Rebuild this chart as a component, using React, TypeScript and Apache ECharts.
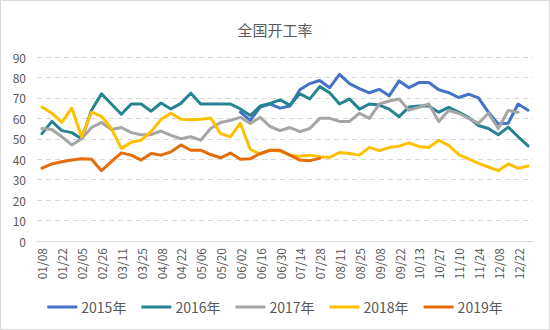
import React, { useEffect, useRef } from "react";
import * as echarts from "echarts";

const categories = [
  "01/08", "01/15", "01/22", "01/29", "02/05", "02/19", "02/26", "03/04", "03/11", "03/18",
  "03/25", "04/01", "04/08", "04/15", "04/22", "04/29", "05/06", "05/13", "05/20", "05/27",
  "06/02", "06/09", "06/16", "06/23", "06/30", "07/07", "07/14", "07/21", "07/28", "08/04",
  "08/11", "08/18", "08/25", "09/01", "09/08", "09/15", "09/22", "09/29", "10/13", "10/20",
  "10/27", "11/03", "11/10", "11/17", "11/24", "12/01", "12/08", "12/15", "12/22", "12/29",
];

const s2015 = [
  null, null, null, null, null, null, null, null, null, null,
  null, null, null, null, null, null, null, null, null, null,
  63, 59, 65.5, 67, 65, 66, 74, 77, 78.5, 75,
  81.5, 77, 74.5, 72.5, 74.2, 71, 78.3, 75, 77.5, 77.5,
  74, 72.6, 70.2, 71.8, 70, 63, 57.3, 57.6, 67, 64,
];
const s2016 = [
  52.5, 58.5, 54, 53, 50, 64, 72, 67, 62, 67,
  67, 63.5, 67.5, 64.6, 67.3, 72.3, 67, 67, 67, 67,
  64.6, 61.4, 66, 67.3, 69, 66.5, 72, 69.5, 75.5, 72.5,
  67, 69.5, 64.5, 67, 66.5, 64.5, 60.8, 65.5, 66, 66,
  63, 65.4, 63, 60.5, 56.5, 55, 52, 55.7, 51, 46.5,
];
const s2017 = [
  55, 54.5, 51, 47, 50, 55.5, 58, 54.5, 55.5, 53,
  52, 52, 53.8, 51.7, 50, 51, 49.3, 55, 58, 59,
  60.5, 57.5, 60.5, 56, 54, 55.5, 53.5, 55, 60, 60,
  58.5, 58.5, 62.5, 60, 67, 68.5, 69.5, 64, 65.4, 67,
  58.5, 63.8, 62.5, 60, 57.5, 62.5, 55, 63.8, 63, null,
];
const s2018 = [
  65.5, 62.5, 58, 65, 51, 63, 61, 55, 45.3, 48.3,
  49.3, 53.5, 59.5, 62.5, 59.6, 59.3, 59.5, 60.2, 52.5, 51,
  57.6, 44.8, 42.5, 44.4, 44, 42, 41.5, 42, 41.2, 40.9,
  43.3, 42.8, 42, 45.8, 44.2, 45.7, 46.4, 48, 46.2, 45.7,
  49.3, 46.8, 42.3, 40.2, 38, 36.2, 34.4, 37.7, 35.6, 36.7,
];
const s2019 = [
  35.6, 37.7, 38.8, 39.6, 40.2, 40, 34.4, 38.8, 43.1, 42,
  39.6, 42.8, 42, 43.6, 47, 44.4, 44.4, 42.3, 40.7, 43,
  40, 40.2, 42.8, 44.4, 44.4, 42, 39.6, 39.3, 40.4,
];

const seriesNames = ["2015年", "2016年", "2017年", "2018年", "2019年"];
const seriesData = [s2015, s2016, s2017, s2018, s2019];
const colors = ["#4472C4", "#25848F", "#A5A5A5", "#FFC000", "#E46C0A"];

const FONT = "'Noto Sans CJK SC', 'Noto Sans', sans-serif";

export default function App() {
  const ref = useRef<HTMLDivElement>(null);
  useEffect(() => {
    document.body.style.margin = "0";
    const chart = echarts.init(ref.current!, null, { renderer: "svg" });
    chart.setOption({
      animation: false,
      backgroundColor: "#ffffff",
      color: colors,
      title: {
        text: "全国开工率",
        left: "center",
        top: 16,
        textStyle: { fontSize: 15, fontWeight: "normal", color: "#595959", fontFamily: FONT },
      },
      grid: { left: 36, right: 16, top: 56, bottom: 88, containLabel: false },
      legend: {
        bottom: 10,
        left: "center",
        icon: "rect",
        itemWidth: 30,
        itemHeight: 3,
        itemGap: 15,
        textStyle: { fontSize: 14, color: "#595959", fontFamily: FONT, padding: [0, 0, 0, -1] },
        data: seriesNames,
      },
      xAxis: {
        type: "category",
        data: categories,
        boundaryGap: true,
        axisLine: { lineStyle: { color: "#d9d9d9", width: 1 } },
        axisTick: { show: false },
        axisLabel: {
          interval: 1,
          rotate: 90,
          color: "#595959",
          fontSize: 12,
          fontFamily: FONT,
          margin: 7,
        },
      },
      yAxis: {
        type: "value",
        min: 0,
        max: 90,
        interval: 10,
        axisLine: { show: false },
        axisTick: { show: false },
        axisLabel: { color: "#595959", fontSize: 12, fontFamily: FONT, margin: 11 },
        splitLine: { lineStyle: { color: "#d9d9d9", type: [5, 4], width: 1 } },
      },
      series: seriesNames.map((name, i) => ({
        name,
        type: "line",
        data: seriesData[i],
        showSymbol: false,
        symbol: "none",
        connectNulls: false,
        lineStyle: { width: 3, color: colors[i], cap: "round", join: "round" },
        itemStyle: { color: colors[i] },
      })),
    });
    return () => chart.dispose();
  }, []);
  return (
    <div
      style={{
        width: 550,
        height: 330,
        boxSizing: "border-box",
        border: "1px solid #d9d9d9",
        overflow: "hidden",
      }}
    >
      <div ref={ref} style={{ width: 548, height: 328 }} />
    </div>
  );
}
